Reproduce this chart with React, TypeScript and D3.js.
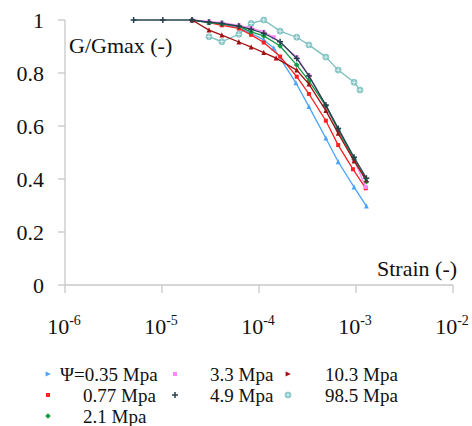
import React from "react";
import * as d3 from "d3";

type Pt = [number, number];

const seriesNames = ["Ψ=0.35 Mpa", "0.77 Mpa", "2.1 Mpa", "3.3 Mpa", "4.9 Mpa", "10.3 Mpa", "98.5 Mpa"];

const s035: Pt[] = [
  [2.04e-5, 1.0], [3.05e-5, 0.99], [4.14e-5, 0.985], [6.2e-5, 0.97], [8.3e-5, 0.95],
  [1.12e-4, 0.925], [1.42e-4, 0.894], [2.4e-4, 0.763], [3.27e-4, 0.673], [4.89e-4, 0.554],
  [6.55e-4, 0.465], [9.55e-4, 0.369], [1.28e-3, 0.298],
];
const s077: Pt[] = [
  [2.04e-5, 1.0], [3.05e-5, 0.99], [4.14e-5, 0.98], [6.2e-5, 0.968], [8.3e-5, 0.944],
  [1.12e-4, 0.915], [1.65e-4, 0.862], [2.45e-4, 0.786], [3.27e-4, 0.721], [4.89e-4, 0.62],
  [6.55e-4, 0.528], [9.3e-4, 0.437], [1.26e-3, 0.365],
];
const s21: Pt[] = [
  [2.04e-5, 1.0], [3.05e-5, 0.99], [4.14e-5, 0.985], [6.2e-5, 0.976], [8.3e-5, 0.955],
  [1.12e-4, 0.94], [1.65e-4, 0.902], [2.45e-4, 0.83], [3.27e-4, 0.77], [4.89e-4, 0.676],
  [6.55e-4, 0.585], [9.55e-4, 0.475], [1.28e-3, 0.39],
];
const s33: Pt[] = [
  [2.04e-5, 1.0], [3.05e-5, 0.995], [4.14e-5, 0.99], [6.2e-5, 0.98], [8.3e-5, 0.97],
  [1.12e-4, 0.955], [1.42e-4, 0.935], [2.45e-4, 0.86], [3.27e-4, 0.79], [4.89e-4, 0.672],
  [6.55e-4, 0.582], [9.55e-4, 0.472], [1.26e-3, 0.37],
];
const s49: Pt[] = [
  [5.1e-6, 1.0], [1.02e-5, 1.0], [2.04e-5, 1.0], [3.05e-5, 0.992], [4.14e-5, 0.987],
  [6.2e-5, 0.977], [8.3e-5, 0.965], [1.12e-4, 0.95], [1.65e-4, 0.918], [2.45e-4, 0.855],
  [3.27e-4, 0.789], [4.89e-4, 0.679], [6.55e-4, 0.591], [9.55e-4, 0.482], [1.28e-3, 0.403],
];
const s103: Pt[] = [
  [2.04e-5, 1.0], [3.05e-5, 0.962], [4.14e-5, 0.943], [6.2e-5, 0.917], [8.3e-5, 0.898],
  [1.12e-4, 0.877], [1.5e-4, 0.856], [2.45e-4, 0.811], [3.27e-4, 0.758], [4.89e-4, 0.658],
  [6.55e-4, 0.572], [9.55e-4, 0.468], [1.28e-3, 0.396],
];
const s985: Pt[] = [
  [3.05e-5, 0.937], [4.14e-5, 0.918], [6.2e-5, 0.946], [8.3e-5, 0.987], [1.12e-4, 1.0],
  [1.65e-4, 0.958], [2.45e-4, 0.935], [3.27e-4, 0.906], [4.89e-4, 0.86], [6.55e-4, 0.811],
  [9.55e-4, 0.765], [1.1e-3, 0.736],
];

const seriesData: Pt[][] = [s035, s077, s21, s33, s49, s103, s985];

const yTicks = [0, 0.2, 0.4, 0.6, 0.8, 1];
const yTickLabels = ["0", "0.2", "0.4", "0.6", "0.8", "1"];
const xExponents = [-6, -5, -4, -3, -2];

const colors = ["#4aa3ff", "#ff2020", "#129a44", "#ff88ff", "#26404e", "#a01010", "#7cc0c0"];
const markers = ["triangle", "square", "diamond", "square", "plus", "triangle", "circleplus"];
const drawOrder = [6, 0, 1, 3, 2, 5, 4];

const T22: React.CSSProperties = { fontFamily: '"Times New Roman"', fontSize: "22px" };
const T19: React.CSSProperties = { fontFamily: '"Times New Roman"', fontSize: "19px" };

function Marker({ kind, x, y, color, legend }: { kind: string; x: number; y: number; color: string; legend?: boolean }) {
  const r = 2.4;
  switch (kind) {
    case "triangle":
      if (legend) {
        return <path d={`M${x - r},${y - r} L${x + r + 0.5},${y} L${x - r},${y + r} Z`} fill={color} />;
      }
      return <path d={`M${x},${y - r - 0.5} L${x + r},${y + r} L${x - r},${y + r} Z`} fill={color} />;
    case "square":
      return <rect x={x - 2} y={y - 2} width={4} height={4} fill={color} />;
    case "diamond":
      return <path d={`M${x},${y - 2.8} L${x + 2.8},${y} L${x},${y + 2.8} L${x - 2.8},${y} Z`} fill={color} />;
    case "plus":
      return (
        <g stroke={color} strokeWidth={1.5}>
          <line x1={x - 3} x2={x + 3} y1={y} y2={y} />
          <line x1={x} x2={x} y1={y - 3} y2={y + 3} />
        </g>
      );
    case "circleplus":
      return (
        <g>
          <circle cx={x} cy={y} r={3} fill={color} stroke={color} strokeWidth={0.8} />
          <line x1={x - 2.5} x2={x + 2.5} y1={y} y2={y} stroke="#ffffff" strokeWidth={0.7} />
          <line x1={x} x2={x} y1={y - 2.5} y2={y + 2.5} stroke="#ffffff" strokeWidth={0.7} />
        </g>
      );
    default:
      return <circle cx={x} cy={y} r={r} fill={color} />;
  }
}

export default function App() {
  const x = d3.scaleLog().domain([1e-6, 1e-2]).range([65, 453]);
  const y = d3.scaleLinear().domain([0, 1]).range([285, 20]);
  const line = d3
    .line<Pt>()
    .x((d) => x(d[0]))
    .y((d) => y(d[1]));

  const legendCols = [48, 175, 288];
  const legendRows = [374, 395, 416];
  const legendTextX = [[60, 83, 83], [210, 210], [325, 325]];
  const legendIdx = [[0, 1, 2], [3, 4], [5, 6]];

  return (
    <svg width={472} height={426} style={{ position: "absolute", left: 0, top: 0 }}>
      <rect x={0} y={0} width={472} height={426} fill="#ffffff" />
      <g stroke="#c8c8c8" strokeWidth={1.3} fill="none">
        <line x1={65} x2={65} y1={y(1)} y2={y(0)} />
        <line x1={65} x2={453} y1={y(0)} y2={y(0)} />
        {yTicks.map((t) => (
          <line key={"yt" + t} x1={58} x2={65} y1={y(t)} y2={y(t)} />
        ))}
        {xExponents.map((e) => (
          <line key={"xt" + e} x1={x(Math.pow(10, e))} x2={x(Math.pow(10, e))} y1={y(0)} y2={y(0) + 8} />
        ))}
      </g>
      {yTicks.map((t, i) => (
        <text key={"yl" + t} style={T22} x={44} y={y(t) + 8} textAnchor="end" fill="#111">
          {yTickLabels[i]}
        </text>
      ))}
      {xExponents.map((e) => (
        <text key={"xl" + e} style={T22} x={x(Math.pow(10, e)) - 1} y={334} textAnchor="middle" fill="#111">
          10
          <tspan style={{ fontSize: "14px" }} dy={-9}>
            {String(e)}
          </tspan>
        </text>
      ))}
      <text style={T22} x={69} y={53} fill="#111">G/Gmax (-)</text>
      <text style={T22} x={377} y={276} fill="#111">Strain (-)</text>
      {drawOrder.map((i) => (
        <g key={"s" + i}>
          <path d={line(seriesData[i]) || ""} fill="none" stroke={colors[i]} strokeWidth={1.3} />
          {seriesData[i].map((d, j) => (
            <Marker key={j} kind={markers[i]} x={x(d[0])} y={y(d[1])} color={colors[i]} />
          ))}
        </g>
      ))}
      {legendIdx.map((col, c) =>
        col.map((si, r) => (
          <g key={"lg" + si}>
            <Marker kind={markers[si]} x={legendCols[c]} y={legendRows[r]} color={colors[si]} legend />
            <text style={T19} x={legendTextX[c][r]} y={legendRows[r] + 6.5} fill="#111">
              {seriesNames[si]}
            </text>
          </g>
        ))
      )}
    </svg>
  );
}
